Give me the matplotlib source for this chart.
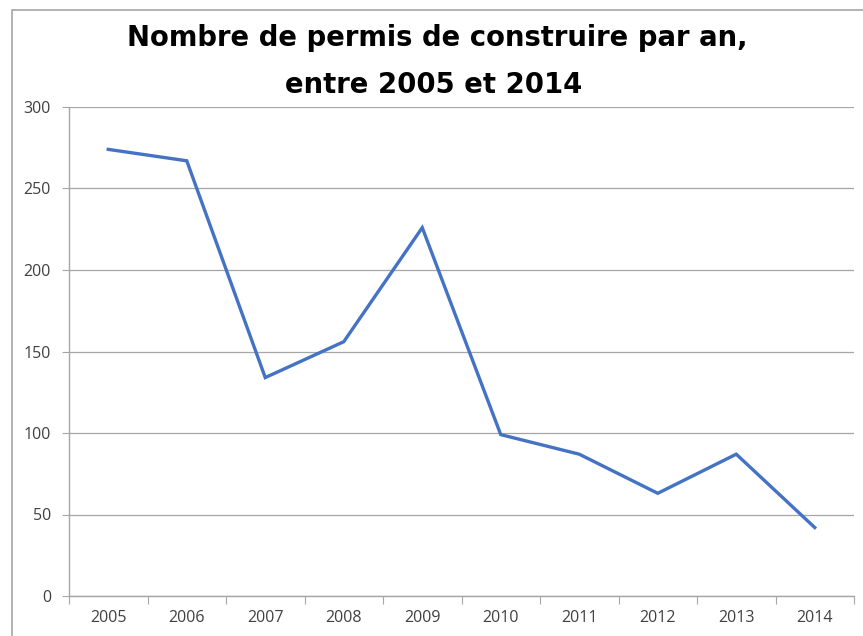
import matplotlib.pyplot as plt
from matplotlib.patches import Rectangle

# data
years = ['2005', '2006', '2007', '2008', '2009', '2010', '2011', '2012', '2013', '2014']
permis = [274, 267, 134, 156, 226, 99, 87, 63, 87, 42]
yticks = [0, 50, 100, 150, 200, 250, 300]

W, H = 863, 636
fig = plt.figure(figsize=(W / 100, H / 100), dpi=100)

# outer chart frame (cut off at the right and bottom in the reference)
fig.patches.append(Rectangle((12 / W, -0.05), 1.2, 1.05 - 10 / H, transform=fig.transFigure,
                             fill=False, edgecolor='#a6a6a6', linewidth=1.2))

ax = fig.add_axes([69 / W, 1 - 596 / H, (854 - 69) / W, (596 - 107) / H])

x = [i + 0.5 for i in range(len(years))]
ax.plot(x, permis, color='#4472C4', linewidth=2.4, solid_joinstyle='miter')

ax.set_xlim(0, len(years))
ax.set_ylim(0, 300)
ax.set_yticks(yticks)
ax.set_yticklabels([str(v) for v in yticks])
ax.set_xticks(range(len(years) + 1))
ax.set_xticklabels([])
ax.set_xticks(x, minor=True)
ax.set_xticklabels(years, minor=True)
ax.tick_params(axis='x', which='minor', length=0, pad=10)
ax.tick_params(axis='x', which='major', length=6, color='#a6a6a6', direction='out')
ax.tick_params(axis='y', length=5, color='#a6a6a6', pad=8)
for lab in ax.get_xticklabels(minor=True) + ax.get_yticklabels():
    lab.set_fontfamily('Open Sans')
    lab.set_fontsize(11.5)
    lab.set_color('#404040')

ax.grid(axis='y', color='#a6a6a6', linewidth=0.9)
ax.set_axisbelow(True)
for s in ['top', 'right']:
    ax.spines[s].set_visible(False)
for s in ['left', 'bottom']:
    ax.spines[s].set_color('#a6a6a6')
    ax.spines[s].set_linewidth(1.0)

fig.text(437 / W, 1 - 38 / H, 'Nombre de permis de construire par an,', ha='center', va='center',
         fontsize=19.8, fontweight='bold', family='DejaVu Sans')
fig.text(434 / W, 1 - 85 / H, 'entre 2005 et 2014', ha='center', va='center',
         fontsize=19.8, fontweight='bold', family='DejaVu Sans')

fig.savefig('out.png', dpi=100)
